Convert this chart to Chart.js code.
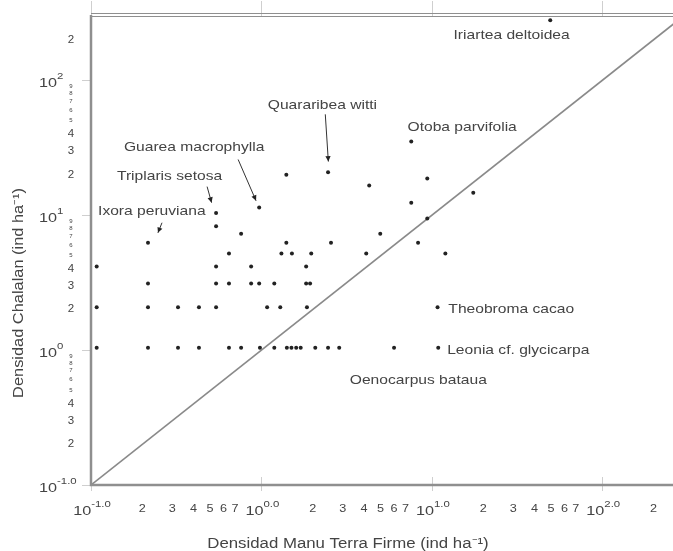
<!DOCTYPE html>
<html>
<head>
<meta charset="utf-8">
<script src="https://cdn.jsdelivr.net/npm/chart.js@4.4.0/dist/chart.umd.min.js"></script>
<style>
  html, body { margin: 0; padding: 0; background: #fff; overflow: hidden; }
  canvas { display: block; }
</style>
</head>
<body>
<canvas id="chart" width="673" height="551"></canvas>
<script>
// densities (ind/ha)
const manuDensity = [
  0.108, 0.216, 0.324, 0.43, 0.645, 0.76, 0.98, 1.19, 1.41, 1.5, 1.6, 1.7, 2.07, 2.46, 2.86, 6.0, 10.9,
  0.108, 0.216, 0.324, 0.43, 0.542, 1.08, 1.29, 1.85, 10.8,
  0.216, 0.542, 0.645, 0.87, 0.97, 1.19, 1.83, 1.93,
  0.108, 0.542, 0.87, 1.83,
  0.645, 1.31, 1.51, 1.96, 4.12, 12.0,
  0.216, 1.40, 2.56, 8.3,
  0.76, 4.98,
  0.542, 0.542, 0.97, 1.40, 2.46, 4.29, 9.4, 17.5, 7.57, 9.4, 7.57, 49.5
];
const chalalanDensity = [
  1.04, 1.04, 1.04, 1.04, 1.04, 1.04, 1.04, 1.04, 1.04, 1.04, 1.04, 1.04, 1.04, 1.04, 1.04, 1.04, 1.04,
  2.08, 2.08, 2.08, 2.08, 2.08, 2.08, 2.08, 2.08, 2.08,
  3.12, 3.12, 3.12, 3.12, 3.12, 3.12, 3.12, 3.12,
  4.16, 4.16, 4.16, 4.16,
  5.2, 5.2, 5.2, 5.2, 5.2, 5.2,
  6.24, 6.24, 6.24, 6.24,
  7.28, 7.28,
  8.3, 10.4, 11.4, 20.0, 20.8, 16.6, 18.7, 14.7, 12.4, 9.45, 35.2, 279
];
const oneToOne = [0.1, 300];

// tick labels
const xDecades = [0.1, 1, 10, 100];
const xDecadeExp = ['-1.0', '0.0', '1.0', '2.0'];
const xMinorTicks = [0.2, 0.3, 0.4, 0.5, 0.6, 0.7, 2, 3, 4, 5, 6, 7, 20, 30, 40, 50, 60, 70, 200];
const xMinorLabels = ['2', '3', '4', '5', '6', '7', '2', '3', '4', '5', '6', '7', '2', '3', '4', '5', '6', '7', '2'];
const yDecades = [0.1, 1, 10, 100];
const yDecadeExp = ['-1.0', '0', '1', '2'];
const yMinorTicks = [0.2, 0.3, 0.4, 2, 3, 4, 20, 30, 40, 200];
const yMinorLabels = ['2', '3', '4', '2', '3', '4', '2', '3', '4', '2'];
const yTinyTicks = [0.5, 0.6, 0.7, 0.8, 0.9, 5, 6, 7, 8, 9, 50, 60, 70, 80, 90];
const yTinyLabels = ['5', '6', '7', '8', '9', '5', '6', '7', '8', '9', '5', '6', '7', '8', '9'];

// species names, anchored in data units (left edge, middle)
const speciesNames = ['Iriartea deltoidea', 'Quararibea witti', 'Otoba parvifolia', 'Guarea macrophylla',
  'Triplaris setosa', 'Ixora peruviana', 'Theobroma cacao', 'Leonia cf. glycicarpa', 'Oenocarpus bataua'];
const nameX = [13.4, 1.09, 7.2, 0.156, 0.142, 0.11, 12.5, 12.3, 3.3];
const nameY = [215, 65, 45, 32, 19.4, 10.6, 2.0, 0.99, 0.6];
// arrows: from label to point
const arrowFrom = [[2.37, 56], [0.73, 25.9], [0.48, 16.3], [0.261, 8.8]];
const arrowTo = [[2.47, 25], [0.93, 12.8], [0.51, 12.4], [0.247, 7.4]];

const points = manuDensity.map((v, i) => ({ x: v, y: chalalanDensity[i] }));
const linePts = oneToOne.map(v => ({ x: v, y: v }));

const FONT = '"Liberation Sans", Arial, sans-serif';
const TXT = '#444';

// text with a horizontal stretch, the scanned figure is wider than tall
function stretchText(ctx, s, x, y, size, sx, align) {
  ctx.font = size + 'px ' + FONT;
  const w = ctx.measureText(s).width * sx;
  let left = x;
  if (align === 'center') left = x - w / 2;
  if (align === 'right') left = x - w;
  ctx.save();
  ctx.translate(left, y);
  ctx.scale(sx, 1);
  ctx.textAlign = 'left';
  ctx.fillText(s, 0, 0);
  ctx.restore();
  return w;
}

function powerLabel(ctx, exp, x, y, sx, align) {
  ctx.font = '13.5px ' + FONT;
  const w1 = ctx.measureText('10').width * sx;
  ctx.font = '9.5px ' + FONT;
  const w2 = ctx.measureText(exp).width * sx;
  let left = x;
  if (align === 'center') left = x - (w1 + w2) / 2;
  stretchText(ctx, '10', left, y, 13.5, sx, 'left');
  stretchText(ctx, exp, left + w1, y - 7, 9.5, sx, 'left');
}

const decorPlugin = {
  id: 'decor',
  afterDraw(chart) {
    const { ctx, chartArea: a, scales: { x, y } } = chart;
    ctx.save();

    // faint decade ticks
    ctx.strokeStyle = '#cfcfcf';
    ctx.lineWidth = 1;
    xDecades.forEach(v => {
      const px = Math.round(x.getPixelForValue(v)) + 0.5;
      ctx.beginPath();
      ctx.moveTo(px, a.top - 15); ctx.lineTo(px, a.top);
      ctx.moveTo(px, a.bottom - 8); ctx.lineTo(px, a.bottom + 6);
      ctx.stroke();
    });
    yDecades.forEach(v => {
      const py = Math.round(y.getPixelForValue(v)) + 0.5;
      ctx.beginPath();
      ctx.moveTo(a.left - 9, py); ctx.lineTo(a.left, py);
      ctx.stroke();
    });

    // axis lines and top border
    ctx.strokeStyle = '#8f8f8f';
    ctx.lineWidth = 2.5;
    ctx.beginPath();
    ctx.moveTo(a.left, a.top - 1); ctx.lineTo(a.left, a.bottom);
    ctx.lineTo(a.right, a.bottom);
    ctx.stroke();
    ctx.lineWidth = 1.2;
    ctx.beginPath();
    ctx.moveTo(a.left, a.top - 2.5); ctx.lineTo(a.right, a.top - 2.5);
    ctx.moveTo(a.left, a.top + 0.5); ctx.lineTo(a.right, a.top + 0.5);
    ctx.stroke();

    ctx.fillStyle = TXT;
    ctx.textBaseline = 'middle';

    // x tick labels
    xMinorTicks.forEach((v, i) => stretchText(ctx, xMinorLabels[i], x.getPixelForValue(v), 509, 11.5, 1.1, 'center'));
    xDecades.forEach((v, i) => powerLabel(ctx, xDecadeExp[i], x.getPixelForValue(v) + 1, 511, 1.2, 'center'));

    // y tick labels
    yMinorTicks.forEach((v, i) => stretchText(ctx, yMinorLabels[i], 71, y.getPixelForValue(v), 10.5, 1.1, 'center'));
    yTinyTicks.forEach((v, i) => stretchText(ctx, yTinyLabels[i], 71, y.getPixelForValue(v), 5, 1.2, 'center'));
    yDecades.forEach((v, i) => powerLabel(ctx, yDecadeExp[i], 39, y.getPixelForValue(v) + 3, 1.2, 'left'));

    // axis titles
    stretchText(ctx, 'Densidad Manu Terra Firme (ind ha⁻¹)', 348, 544, 14, 1.2, 'center');
    ctx.save();
    ctx.translate(19, 293);
    ctx.rotate(-Math.PI / 2);
    stretchText(ctx, 'Densidad Chalalan (ind ha⁻¹)', 0, 0, 14, 1.17, 'center');
    ctx.restore();

    // species names
    speciesNames.forEach((s, i) => {
      stretchText(ctx, s, x.getPixelForValue(nameX[i]), y.getPixelForValue(nameY[i]), 13, 1.2, 'left');
    });

    // arrows
    ctx.strokeStyle = '#333';
    ctx.fillStyle = '#222';
    ctx.lineWidth = 1;
    arrowFrom.forEach((f, i) => {
      const x0 = x.getPixelForValue(f[0]), y0 = y.getPixelForValue(f[1]);
      const x1 = x.getPixelForValue(arrowTo[i][0]), y1 = y.getPixelForValue(arrowTo[i][1]);
      const ang = Math.atan2(y1 - y0, x1 - x0);
      ctx.beginPath();
      ctx.moveTo(x0, y0); ctx.lineTo(x1, y1);
      ctx.stroke();
      ctx.beginPath();
      ctx.moveTo(x1, y1);
      ctx.lineTo(x1 - 6 * Math.cos(ang - 0.45), y1 - 6 * Math.sin(ang - 0.45));
      ctx.lineTo(x1 - 6 * Math.cos(ang + 0.45), y1 - 6 * Math.sin(ang + 0.45));
      ctx.closePath();
      ctx.fill();
    });
    ctx.restore();
  }
};

const ctx = document.getElementById('chart').getContext('2d');
new Chart(ctx, {
  type: 'scatter',
  data: {
    datasets: [
      {
        data: points,
        pointRadius: 2,
        pointBackgroundColor: '#222',
        pointBorderWidth: 0
      },
      {
        data: linePts,
        showLine: true,
        borderColor: '#8a8a8a',
        borderWidth: 1.6,
        pointRadius: 0
      }
    ]
  },
  options: {
    responsive: false,
    animation: false,
    layout: { autoPadding: false, padding: { top: 16, right: 0, left: 0, bottom: 0 } },
    plugins: { legend: { display: false }, tooltip: { enabled: false } },
    scales: {
      x: {
        type: 'logarithmic', min: 0.1, max: 260,
        ticks: { display: false }, grid: { display: false }, border: { display: false },
        afterFit: (s) => { s.height = 66; s.paddingLeft = 0; s.paddingRight = 0; }
      },
      y: {
        type: 'logarithmic', min: 0.1, max: 300,
        ticks: { display: false }, grid: { display: false }, border: { display: false },
        afterFit: (s) => { s.width = 91; s.paddingTop = 0; s.paddingBottom = 0; }
      }
    }
  },
  plugins: [decorPlugin]
});
</script>
</body>
</html>
